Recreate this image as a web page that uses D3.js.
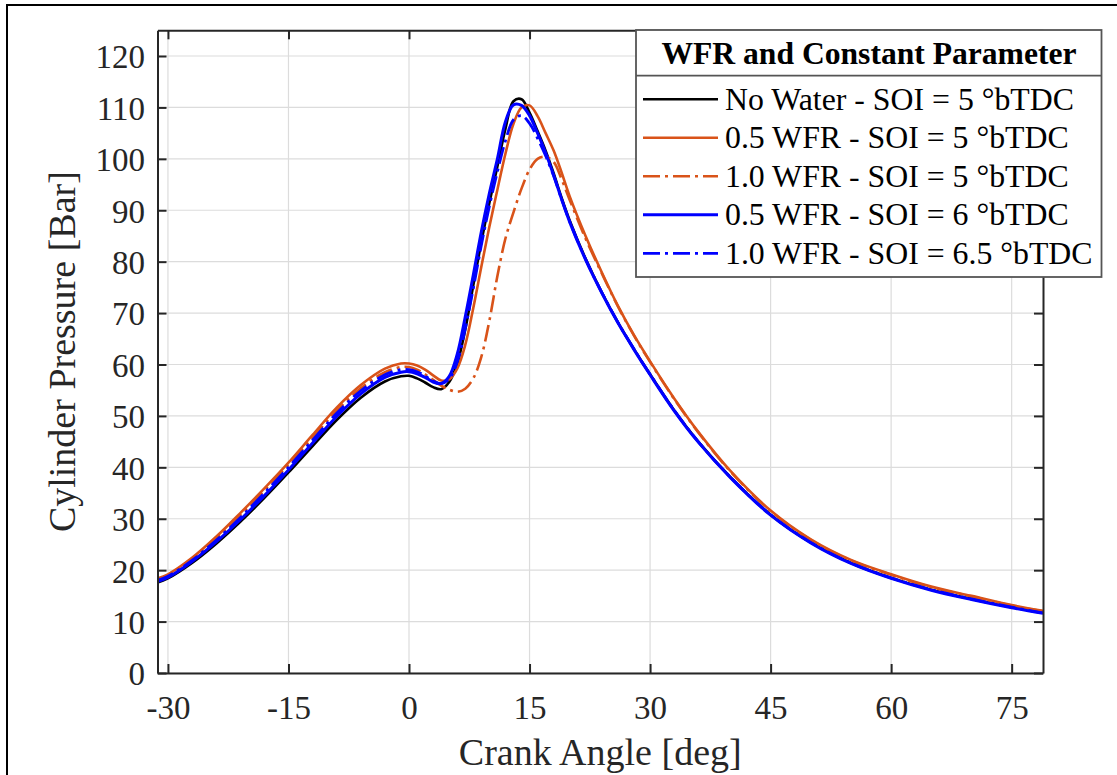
<!DOCTYPE html>
<html lang="en">
<head>
    <meta charset="UTF-8">
    <title>Cylinder Pressure</title>
    <script src="https://cdn.jsdelivr.net/npm/d3@7/dist/d3.min.js"></script>
    <style>
        body {
            margin: 0;
            background: #fff;
        }
        #chart {
            width: 1117px;
            height: 775px;
        }
        text {
            font-family: "Liberation Serif", "Times New Roman", serif;
        }
    </style>
</head>
<body>
<div id="chart"></div>
<script>
    // crank angle [deg]
    var crankAngle = [-31.3, -30, -27, -24, -21, -18, -15, -12, -9, -6, -3, -1,
        0, 1, 2, 3, 4, 5, 6, 7, 8, 9, 10, 11, 12, 13, 14, 15, 16, 17, 18, 19, 20,
        22, 24, 26, 28, 30, 33, 36, 40, 45, 50, 55, 60, 65, 70, 75, 78.9];

    // cylinder pressure [Bar]
    var noWater = [17.6, 18.4, 21.4, 25.15, 29.4, 34.05, 39.0, 44.15, 49.2, 53.55, 56.7, 57.7,
        57.8, 57.3, 56.5, 55.6, 55.2, 56.6, 60.2, 66.8, 75.4, 83.8, 91.4, 98.5, 105.8, 111.2, 111.6, 109.0, 105.4, 101.6, 97.2, 92.4, 88.0,
        80.5, 74.0, 68.2, 63.0, 58.1, 51.1, 45.0, 38.1, 30.8, 25.4, 21.4, 18.5, 16.2, 14.4, 12.8, 11.7];
    var wfr05soi5 = [18.4, 19.2, 22.4, 26.5, 31.1, 35.9, 40.9, 46.3, 51.6, 56.0, 59.2, 60.2,
        60.2, 59.8, 59.0, 57.9, 56.9, 57.1, 59.2, 63.8, 71.0, 79.0, 86.8, 94.0, 101.0, 106.8, 110.0, 110.4, 108.3, 105.0, 101.6, 97.3, 92.7,
        84.9, 77.9, 71.4, 65.7, 60.6, 53.4, 46.9, 39.3, 31.6, 26.0, 22.0, 19.2, 16.8, 15.0, 13.2, 12.1];
    var wfr10soi5 = [18.2, 19.0, 22.2, 26.2, 30.7, 35.5, 40.5, 45.8, 51.0, 55.4, 58.5, 59.5,
        59.5, 59.0, 58.1, 57.0, 55.9, 55.1, 54.7, 55.3, 57.3, 61.5, 68.5, 77.2, 84.5, 89.6, 94.2, 97.9, 100.0, 100.4, 99.4, 96.0, 92.0,
        84.4, 77.7, 71.3, 65.6, 60.5, 53.3, 46.8, 39.2, 31.5, 25.9, 21.9, 19.1, 16.7, 14.9, 13.1, 12.0];
    var wfr05soi6 = [17.8, 18.6, 21.7, 25.5, 29.8, 34.5, 39.5, 44.75, 49.9, 54.3, 57.5, 58.5,
        58.6, 58.2, 57.5, 56.6, 56.3, 57.7, 62.0, 69.3, 77.4, 85.8, 93.3, 100.0, 107.2, 110.5, 110.4, 108.4, 105.0, 101.2, 96.8, 92.1, 87.7,
        80.3, 73.9, 68.1, 62.9, 58.0, 51.0, 44.9, 38.0, 30.7, 25.3, 21.3, 18.4, 16.1, 14.3, 12.7, 11.6];
    var wfr10soi65 = [18.0, 18.8, 21.9, 25.8, 30.2, 35.0, 40.0, 45.3, 50.5, 54.9, 58.0, 59.0,
        59.0, 58.6, 57.8, 56.8, 56.3, 57.2, 60.5, 67.0, 74.8, 83.2, 90.8, 97.5, 103.5, 107.6, 108.4, 106.9, 104.0, 100.6, 96.7, 92.1, 87.8,
        80.4, 74.0, 68.2, 63.0, 58.1, 51.1, 45.0, 38.1, 30.8, 25.4, 21.4, 18.5, 16.2, 14.4, 12.8, 11.7];

    var seriesNames = ["No Water - SOI = 5 \u00b0bTDC", "0.5 WFR - SOI = 5 \u00b0bTDC", "1.0 WFR - SOI = 5 \u00b0bTDC",
        "0.5 WFR - SOI = 6 \u00b0bTDC", "1.0 WFR - SOI = 6.5 \u00b0bTDC"];
    var legendTitle = "WFR and Constant Parameter";
    var xTicks = [-30, -15, 0, 15, 30, 45, 60, 75];
    var yTicks = [0, 10, 20, 30, 40, 50, 60, 70, 80, 90, 100, 110, 120];
    var yMax = 125;

    var dashDot = "17,5,3,5";
    var series = [
        {name: seriesNames[0], values: noWater, color: "#000000", dash: null, width: 2.6},
        {name: seriesNames[1], values: wfr05soi5, color: "#D95319", dash: null, width: 2.6},
        {name: seriesNames[2], values: wfr10soi5, color: "#D95319", dash: dashDot, width: 2.6},
        {name: seriesNames[3], values: wfr05soi6, color: "#0000FF", dash: null, width: 3},
        {name: seriesNames[4], values: wfr10soi65, color: "#0000FF", dash: dashDot, width: 2.8}
    ];

    var svgW = 1117, svgH = 775;
    var plotL = 157.5, plotR = 1043, plotT = 30.3, plotB = 673;
    var axisColor = "#262626";

    var svg = d3.select("#chart").append("svg")
        .attr("width", svgW)
        .attr("height", svgH);

    // outer frame (cut off on the right / bottom)
    svg.append("rect")
        .attr("x", 7).attr("y", 5)
        .attr("width", 1300).attr("height", 1000)
        .attr("fill", "none")
        .attr("stroke", "#000")
        .attr("stroke-width", 2);

    var x = d3.scaleLinear()
        .domain([crankAngle[0], crankAngle[crankAngle.length - 1]])
        .range([plotL, plotR]);
    var y = d3.scaleLinear()
        .domain([0, yMax])
        .range([plotB, plotT]);

    // grid
    var grid = svg.append("g").attr("stroke", "#dcdcdc").attr("stroke-width", 1.2);
    grid.selectAll(".gx").data(xTicks).enter().append("line")
        .attr("x1", function (d) { return x(d); })
        .attr("x2", function (d) { return x(d); })
        .attr("y1", plotT).attr("y2", plotB);
    grid.selectAll(".gy").data(yTicks).enter().append("line")
        .attr("y1", function (d) { return y(d); })
        .attr("y2", function (d) { return y(d); })
        .attr("x1", plotL).attr("x2", plotR);

    // curves
    svg.append("clipPath").attr("id", "clip")
        .append("rect")
        .attr("x", plotL).attr("y", plotT)
        .attr("width", plotR - plotL).attr("height", plotB - plotT);

    var line = d3.line()
        .x(function (d, i) { return x(crankAngle[i]); })
        .y(function (d) { return y(d); })
        .curve(d3.curveCatmullRom.alpha(0.5));

    svg.append("g").attr("clip-path", "url(#clip)")
        .selectAll("path")
        .data(series)
        .enter()
        .append("path")
        .attr("d", function (d) { return line(d.values); })
        .attr("fill", "none")
        .attr("stroke", function (d) { return d.color; })
        .attr("stroke-width", function (d) { return d.width; })
        .attr("stroke-dasharray", function (d) { return d.dash; })
        .attr("stroke-linejoin", "round");

    // axes, ticks pointing inwards
    var plainNum = function (d) { return String(d); };
    var styleAxis = function (g) {
        g.select(".domain").attr("stroke", axisColor).attr("stroke-width", 2);
        g.selectAll(".tick line").attr("stroke", axisColor).attr("stroke-width", 2);
        g.selectAll(".tick text").attr("fill", axisColor).attr("font-size", 33)
            .attr("font-family", "'Liberation Serif', 'Times New Roman', serif");
    };

    svg.append("g")
        .attr("transform", "translate(0," + plotB + ")")
        .call(d3.axisBottom(x).tickValues(xTicks).tickFormat(plainNum).tickSizeInner(-9).tickSizeOuter(0).tickPadding(22.5))
        .call(styleAxis);
    svg.append("g")
        .attr("transform", "translate(0," + plotT + ")")
        .call(d3.axisTop(x).tickValues(xTicks).tickSizeInner(-9).tickSizeOuter(0).tickFormat(""))
        .call(styleAxis);
    svg.append("g")
        .attr("transform", "translate(" + plotL + ",0)")
        .call(d3.axisLeft(y).tickValues(yTicks).tickFormat(plainNum).tickSizeInner(-9).tickSizeOuter(0).tickPadding(12.5))
        .call(styleAxis)
        .selectAll(".tick text").attr("dy", "0.36em");
    svg.append("g")
        .attr("transform", "translate(" + plotR + ",0)")
        .call(d3.axisRight(y).tickValues(yTicks).tickSizeInner(-9).tickSizeOuter(0).tickFormat(""))
        .call(styleAxis);

    // axis labels
    svg.append("text")
        .attr("x", (plotL + plotR) / 2)
        .attr("y", 765)
        .attr("text-anchor", "middle")
        .attr("font-size", 38)
        .attr("fill", axisColor)
        .text("Crank Angle [deg]");
    svg.append("text")
        .attr("transform", "translate(75," + (plotT + plotB) / 2 + ") rotate(-90)")
        .attr("text-anchor", "middle")
        .attr("font-size", 38)
        .attr("fill", axisColor)
        .text("Cylinder Pressure [Bar]");

    // legend
    var lg = svg.append("g");
    lg.append("rect")
        .attr("x", 636).attr("y", 30)
        .attr("width", 465.5).attr("height", 247)
        .attr("fill", "#fff")
        .attr("stroke", "#555")
        .attr("stroke-width", 1.8);
    lg.append("line")
        .attr("x1", 636).attr("x2", 1101.5)
        .attr("y1", 75.7).attr("y2", 75.7)
        .attr("stroke", "#555")
        .attr("stroke-width", 1.8);
    lg.append("text")
        .attr("x", 869).attr("y", 63.5)
        .attr("text-anchor", "middle")
        .attr("font-size", 31.6)
        .attr("font-weight", "bold")
        .attr("fill", "#000")
        .text(legendTitle);

    var rows = lg.selectAll(".row")
        .data(series)
        .enter()
        .append("g")
        .attr("transform", function (d, i) { return "translate(0," + (99.3 + i * 38.5) + ")"; });
    rows.append("line")
        .attr("x1", 643).attr("x2", 718)
        .attr("y1", 0).attr("y2", 0)
        .attr("stroke", function (d) { return d.color; })
        .attr("stroke-width", function (d) { return d.width; })
        .attr("stroke-dasharray", function (d) { return d.dash; });
    rows.append("text")
        .attr("x", 725).attr("y", 10.5)
        .attr("font-size", 31.8)
        .attr("fill", "#000")
        .text(function (d) { return d.name; });
</script>
</body>
</html>
